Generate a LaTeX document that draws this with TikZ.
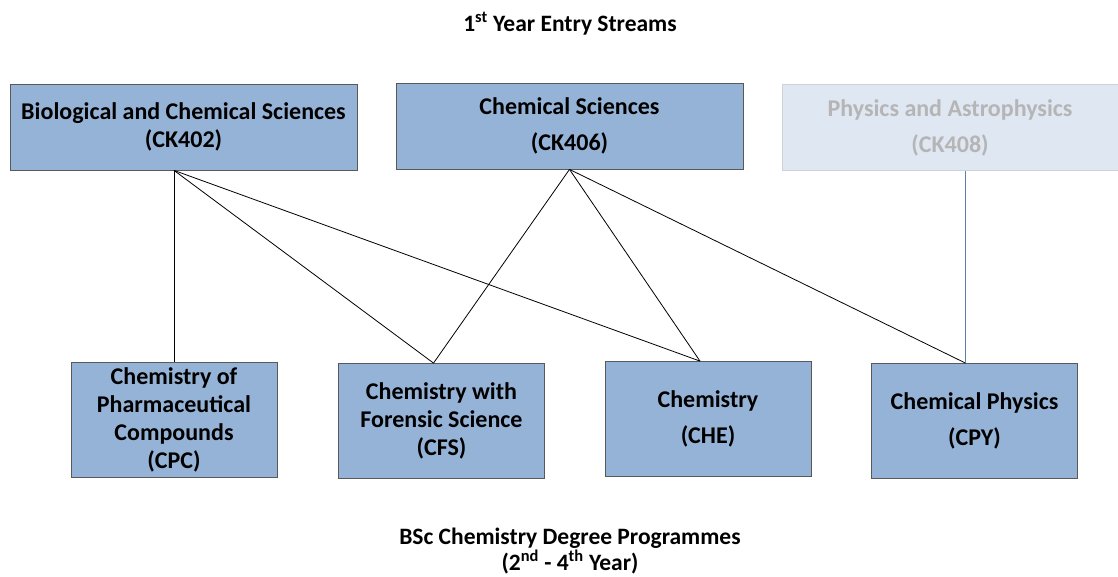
\documentclass[tikz,border=0pt]{standalone}
\usepackage{fontspec}
\setmainfont{Carlito}
\definecolor{boxfill}{HTML}{95B3D7}
\definecolor{boxline}{HTML}{595959}
\definecolor{fadefill}{HTML}{DFE7F2}
\definecolor{fadeline}{HTML}{CFD3D8}
\definecolor{fadetext}{HTML}{B5B5B5}
\definecolor{fadelink}{HTML}{5B7FAF}
\begin{document}
\begin{tikzpicture}[x=1pt,y=-1pt,
    stream/.style={draw=boxline,fill=boxfill,line width=0.8pt,align=center,inner sep=0pt,
      minimum width=347pt,minimum height=86pt,font=\bfseries\fontsize{24}{28}\selectfont},
    faded/.style={stream,draw=fadeline,fill=fadefill,text=fadetext,minimum width=336pt},
    degree/.style={stream,minimum width=206pt,minimum height=115pt},
    heading/.style={font=\bfseries\fontsize{23.5}{26}\selectfont,align=center},
    link/.style={line width=0.8pt}]
  \useasboundingbox (0,0) rectangle (1118,576);
  % titles
  \node[heading] (top) at (570,24) {1\textsuperscript{st} Year Entry Streams};
  \node[heading] (bottom) at (570,551) {BSc Chemistry Degree Programmes\\(2\textsuperscript{nd} - 4\textsuperscript{th} Year)};
  % entry streams
  \node[stream] (bcs) at (183.5,127) {Biological and Chemical Sciences\\(CK402)};
  \node[stream] (cs) at (569.5,126) {Chemical Sciences\\[8pt](CK406)};
  \node[faded] (pa) at (950,127.5) {Physics and Astrophysics\\[8pt](CK408)};
  % degree programmes
  \node[degree] (cpc) at (174,420) {Chemistry of\\Pharmaceutical\\Compounds\\(CPC)};
  \node[degree] (cfs) at (441.5,421) {Chemistry with\\Forensic Science\\(CFS)};
  \node[degree] (che) at (708,419) {Chemistry\\[8pt](CHE)};
  \node[degree] (cpy) at (974.5,421) {Chemical Physics\\[8pt](CPY)};
  % connectors
  \coordinate (bcs-o) at (bcs.south -| cpc.north);
  \coordinate (cfs-i) at ([xshift=-8pt]cfs.north);
  \coordinate (che-i) at ([xshift=-8pt]che.north);
  \coordinate (cpy-i) at ([xshift=-9pt]cpy.north);
  \draw[link] (bcs-o) -- (cpc.north);
  \draw[link] (bcs-o) -- (cfs-i);
  \draw[link] (bcs-o) -- (che-i);
  \draw[link] (cs.south) -- (cfs-i);
  \draw[link] (cs.south) -- (che-i);
  \draw[link] (cs.south) -- (cpy-i);
  \draw[link,fadelink] (pa.south -| cpy-i) -- (cpy-i);
\end{tikzpicture}
\end{document}
